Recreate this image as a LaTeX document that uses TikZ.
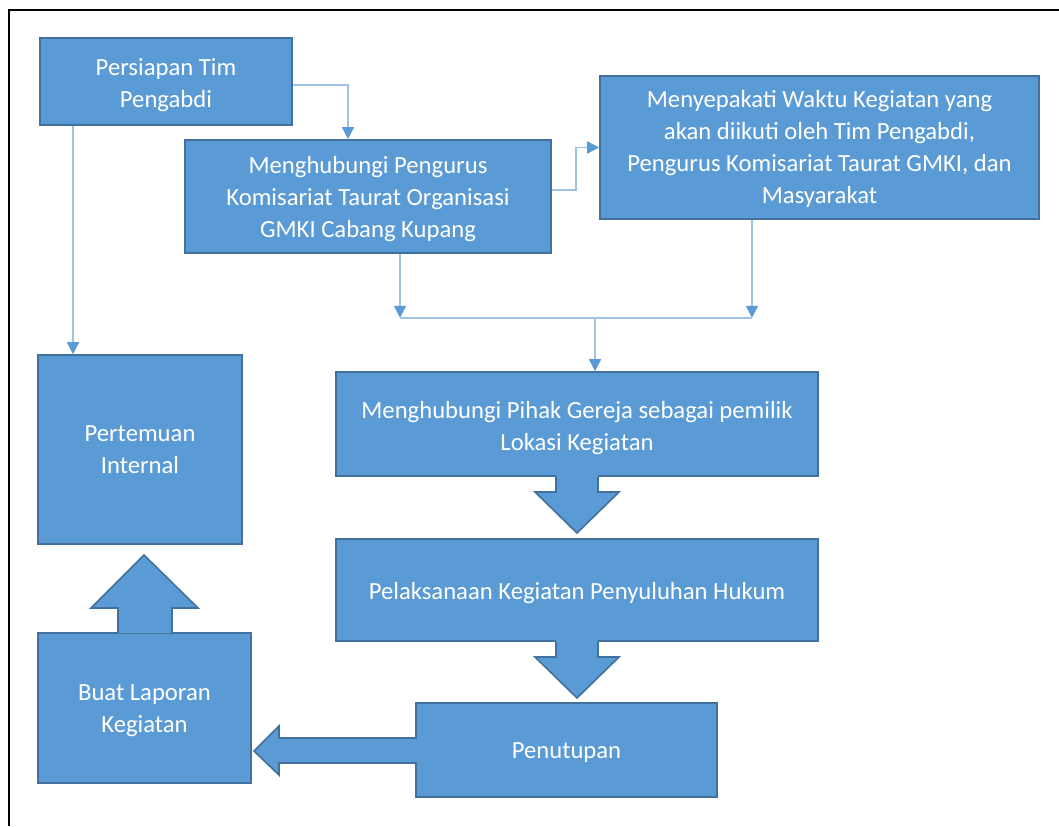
\documentclass[tikz,border=0pt]{standalone}
\usepackage{fontspec}
\setmainfont{Carlito}
\usetikzlibrary{arrows.meta,calc}
\definecolor{boxfill}{HTML}{5B9BD5}
\definecolor{boxline}{HTML}{41719C}
\definecolor{connline}{HTML}{9DC3E6}
\newdimen\pxu \pxu=0.75pt
\begin{document}
\begin{tikzpicture}[x=0.75pt,y=-0.75pt,
  box/.style={draw=boxline,fill=boxfill,line width=1.2pt,inner sep=0pt},
  txt/.style={inner sep=0pt,align=center,text=white,font=\fontsize{18.5}{24}\selectfont},
  conn/.style={draw=connline,line width=1.1pt,-{Triangle[length=9pt,width=9pt,color=boxfill]}},
  plain/.style={draw=connline,line width=1.1pt},
  blockarrow/.style={fill=boxfill,draw=boxline,line width=1.2pt,line join=miter}]
\useasboundingbox (0,0) rectangle (1059,826);
\draw[line width=1.6pt] (9,826) -- (9,10) -- (1059,10);

\node[box,minimum width=252\pxu,minimum height=87\pxu] (p1) at (166,81.5) {};
\node[box,minimum width=366\pxu,minimum height=113\pxu] (p2) at (368,196.5) {};
\node[box,minimum width=439\pxu,minimum height=143\pxu] (p3) at (819.5,147.5) {};
\node[box,minimum width=204\pxu,minimum height=189\pxu] (p4) at (140,449.5) {};
\node[box,minimum width=482\pxu,minimum height=104\pxu] (p5) at (577,424) {};
\node[box,minimum width=482\pxu,minimum height=102\pxu] (p6) at (577,590) {};
\node[box,minimum width=301\pxu,minimum height=94\pxu] (p7) at (566.5,750) {};
\node[box,minimum width=213\pxu,minimum height=150\pxu] (p8) at (144.5,708) {};

\node[txt,yshift=-2.4pt] (t1) at (p1) {Persiapan Tim\\Pengabdi};
\node[txt,yshift=-2pt] (t2) at (p2) {Menghubungi Pengurus\\Komisariat Taurat Organisasi\\GMKI Cabang Kupang};
\node[txt,yshift=-1.3pt] (t3) at (p3) {Menyepakati Waktu Kegiatan yang\\akan diikuti oleh Tim Pengabdi,\\Pengurus Komisariat Taurat GMKI, dan\\Masyarakat};
\node[txt,yshift=0pt] (t4) at (p4) {Pertemuan\\Internal};
\node[txt,yshift=-3pt] (t5) at (p5) {Menghubungi Pihak Gereja sebagai pemilik\\Lokasi Kegiatan};
\node[txt,yshift=-2.2pt] (t6) at (p6) {Pelaksanaan Kegiatan Penyuluhan Hukum};
\node[txt,yshift=-2.2pt] (t7) at (p7) {Penutupan};
\node[txt,yshift=-2.2pt] (t8) at (p8) {Buat Laporan\\Kegiatan};

% thin connectors
\draw[conn] ($(p1.east)+(0,3.5)$) -| ($(p2.north)+(-20,0)$);
\draw[conn] ($(p1.south)+(-93,0)$) -- ($(p4.north)+(-67,0)$);
\draw[conn] ($(p2.east)+(0,-6.5)$) -- ++(24,0) |- (p3.west);
\coordinate (j1) at ($(p2.south)+(32,64)$);
\coordinate (j2) at ($(p3.south)+(-67.5,98)$);
\draw[conn] ($(p2.south)+(32,0)$) -- (j1);
\draw[conn] ($(p3.south)+(-67.5,0)$) -- (j2);
\draw[plain] (j1) -- (j2);
\coordinate (jm) at ($(j1)!0.554!(j2)$);
\draw[conn] (jm) -- (jm |- p5.north);

% block arrows
\fill[boxfill] (556,475) rectangle (598,493);
\draw[blockarrow] (556,476.5) -- (556,492) -- (535,492) -- (577,533) -- (619,492) -- (598,492) -- (598,476.5);
\fill[boxfill] (556,640) rectangle (598,658);
\draw[blockarrow] (556,641.5) -- (556,657) -- (535,657) -- (577,698) -- (619,657) -- (598,657) -- (598,641.5);
\draw[blockarrow] (118,633) -- (118,608) -- (91,608) -- (144,555) -- (198,608) -- (172,608) -- (172,633);
\fill[boxfill] (117,633.8) rectangle (173,640);
\draw[blockarrow] (417,738) -- (279,738) -- (279,726) -- (254,751) -- (279,775) -- (279,763) -- (417,763);
\fill[boxfill] (410,739) rectangle (418,762);
\end{tikzpicture}
\end{document}
